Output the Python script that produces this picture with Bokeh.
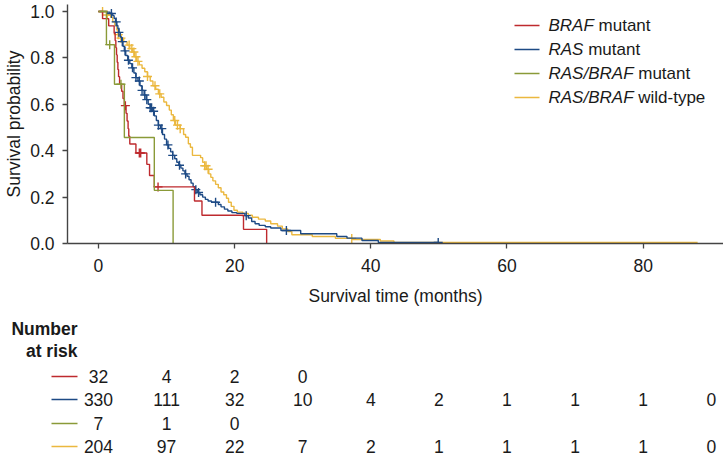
from bokeh.plotting import figure
from bokeh.layouts import column, row
from bokeh.models import (Range1d, FixedTicker, PrintfTickFormatter,
                          ColumnDataSource)
from bokeh.embed import file_html
from bokeh.resources import INLINE
from bokeh.core.properties import value

# ---------------- data ----------------
# Kaplan-Meier step curves: survival holds from each time until the next one
braf_t = [0, 0.6, 1.5, 2.3, 2.45, 2.55, 2.65, 2.75, 2.85, 2.95, 3.1, 3.4, 3.6, 3.8,
          4.05, 4.2, 4.35, 4.45, 4.6, 5.5, 7.1, 7.5, 8.2, 14.1, 15.2, 21.3, 24.7]
braf_s = [1.0, 0.969, 0.938, 0.906, 0.875, 0.844, 0.813, 0.781, 0.75, 0.719, 0.688,
          0.656, 0.625, 0.594, 0.561, 0.528, 0.495, 0.462, 0.429, 0.39, 0.341, 0.293,
          0.244, 0.183, 0.122, 0.061, 0.0]
braf_cens = [3.95, 6.0, 6.2, 8.75]

ras_t = [0, 1.2, 1.7, 2.1, 2.3, 2.5, 2.7, 2.85, 3.0, 3.2, 3.4, 3.6, 3.8, 4.0, 4.3, 4.6,
         4.9, 5.2, 5.5, 5.8, 6.1, 6.4, 6.7, 7.0, 7.3, 7.6, 7.9, 8.2, 8.5, 8.8, 9.1, 9.4,
         9.7, 10.0, 10.3, 10.6, 10.9, 11.2, 11.5, 11.8, 12.1, 12.4, 12.7, 13.0, 13.3,
         13.6, 13.9, 14.2, 14.5, 14.9, 15.3, 15.7, 16.1, 16.6, 17.6, 18.0, 18.5, 19.0,
         19.6, 20.3, 21.5, 22.0, 22.5, 23.0, 23.6, 24.5, 25.3, 26.8, 29.7, 35.0, 36.5,
         38.7, 41.1, 50.0]
ras_s = [1.0, 0.997, 0.991, 0.982, 0.97, 0.955, 0.94, 0.925, 0.91, 0.89, 0.87, 0.85,
         0.83, 0.81, 0.79, 0.775, 0.757, 0.735, 0.715, 0.70, 0.68, 0.66, 0.64, 0.62,
         0.60, 0.585, 0.57, 0.55, 0.53, 0.51, 0.495, 0.47, 0.45, 0.425, 0.41, 0.395,
         0.38, 0.365, 0.35, 0.337, 0.325, 0.313, 0.30, 0.29, 0.275, 0.26, 0.245, 0.232,
         0.22, 0.21, 0.20, 0.19, 0.183, 0.178, 0.168, 0.158, 0.148, 0.14, 0.133, 0.13,
         0.12, 0.11, 0.095, 0.085, 0.078, 0.072, 0.067, 0.056, 0.042, 0.030, 0.023,
         0.013, 0.004, 0.004]
ras_cens = [1.9, 2.6, 3.0, 3.5, 3.9, 4.4, 5.0, 5.5, 6.0, 6.4, 6.8, 7.1, 7.6, 7.8, 8.1,
            8.8, 9.3, 10.2, 10.9, 11.9, 12.8, 14.3, 14.7, 17.2, 21.7, 27.6, 49.9]

mut_t = [0, 1.17, 2.35, 3.8, 8.2, 10.96]
mut_s = [1.0, 0.857, 0.686, 0.457, 0.229, 0.0]
mut_cens = [1.65, 3.3]

wt_t = [0, 1.3, 1.8, 2.1, 2.4, 2.7, 2.9, 3.3, 3.7, 4.2, 4.6, 5.0, 5.3, 5.6, 6.0, 6.4,
        6.8, 7.2, 7.6, 8.0, 8.4, 8.8, 9.2, 9.6, 10.0, 10.4, 10.7, 11.0, 11.3, 12.0,
        12.5, 12.8, 13.2, 13.5, 13.8, 15.0, 15.3, 15.6, 15.9, 16.2, 16.5, 16.8, 17.2,
        17.6, 18.0, 18.4, 18.8, 19.1, 19.5, 19.9, 20.4, 21.2, 22.0, 22.6, 23.5, 24.5,
        25.3, 26.3, 27.0, 27.8, 28.4, 31.4, 34.8, 37.3, 41.4, 43.4, 88.0]
wt_s = [1.0, 0.985, 0.975, 0.955, 0.94, 0.92, 0.90, 0.885, 0.87, 0.855, 0.84, 0.825,
        0.805, 0.785, 0.77, 0.755, 0.74, 0.72, 0.70, 0.68, 0.665, 0.645, 0.63, 0.61,
        0.595, 0.575, 0.555, 0.53, 0.51, 0.495, 0.47, 0.458, 0.43, 0.415, 0.38, 0.37,
        0.35, 0.335, 0.32, 0.30, 0.285, 0.27, 0.255, 0.24, 0.222, 0.21, 0.195, 0.178,
        0.16, 0.143, 0.135, 0.13, 0.122, 0.113, 0.105, 0.097, 0.085, 0.075, 0.063,
        0.052, 0.038, 0.030, 0.022, 0.017, 0.011, 0.004, 0.004]
wt_cens = [0.6, 1.3, 2.9, 3.3, 4.5, 4.9, 5.2, 5.5, 5.8, 7.2, 8.3, 9.0, 11.2, 11.6,
           12.0, 15.6, 15.8, 16.1, 37.2]

legend_italic = ["BRAF", "RAS", "RAS/BRAF", "RAS/BRAF"]
legend_plain = ["mutant", "mutant", "mutant", "wild-type"]
colors = ["#BE2A2E", "#1D4A85", "#8A9A38", "#EBB83F"]

risk_times = [0, 10, 20, 30, 40, 50, 60, 70, 80, 90]
risk_braf = [32, 4, 2, 0]
risk_ras = [330, 111, 32, 10, 4, 2, 1, 1, 1, 0]
risk_mut = [7, 1, 0]
risk_wt = [204, 97, 22, 7, 2, 1, 1, 1, 1, 0]

x_ticks = [0, 20, 40, 60, 80]
y_ticks = [0.0, 0.2, 0.4, 0.6, 0.8, 1.0]

# ---------------- layout constants ----------------
W = 723
TOP_H = 310
BOT_H = 459 - TOP_H
LEFT = 67
X0, X1 = -4.55, 91.8
Y0, Y1 = 0.0, 1.03
PPU = (W - LEFT) / (X1 - X0)          # pixels per month
FRAME_TOP = 4
FRAME_H = 243 - FRAME_TOP
FONT = "Liberation Sans"
FS = "17.5px"
TXT = "#1a1a1a"
AXC = "#444444"
KEY_W = 80                            # width of the left key column of the table


def tx(px):
    """canvas pixel column -> months"""
    return X0 + (px - LEFT) / PPU


def sy(py):
    """canvas pixel row -> survival value (top figure)"""
    return Y0 + (243 - py) / FRAME_H * (Y1 - Y0)


def step_value(ts, ss, t):
    v = ss[0]
    for ti, si in zip(ts, ss):
        if ti <= t:
            v = si
        else:
            break
    return v


# ---------------- survival plot ----------------
p = figure(width=W, height=TOP_H, output_backend="svg", toolbar_location=None,
           x_range=Range1d(X0, X1), y_range=Range1d(Y0, Y1),
           min_border_left=LEFT, min_border_right=0, min_border_top=FRAME_TOP,
           min_border_bottom=TOP_H - 243)
p.outline_line_color = None
p.grid.visible = False
p.background_fill_color = "white"
p.border_fill_color = "white"

for ax in (p.xaxis[0], p.yaxis[0]):
    ax.axis_line_color = AXC
    ax.axis_line_width = 1.4
    ax.major_tick_line_color = AXC
    ax.major_tick_line_width = 1.3
    ax.major_tick_in = 0
    ax.major_tick_out = 5
    ax.minor_tick_line_color = None
    ax.major_label_text_font = FONT
    ax.major_label_text_font_size = FS
    ax.major_label_text_color = TXT
    ax.axis_label_text_font = FONT
    ax.axis_label_text_font_size = FS
    ax.axis_label_text_font_style = "normal"
    ax.axis_label_text_color = TXT

p.xaxis.ticker = FixedTicker(ticks=x_ticks)
p.xaxis.axis_label = "Survival time (months)"
p.xaxis.major_label_standoff = 10
p.xaxis.axis_label_standoff = 11
p.yaxis.ticker = FixedTicker(ticks=y_ticks)
p.yaxis.formatter = PrintfTickFormatter(format="%.1f")
p.yaxis.axis_label = "Survival probability"
p.yaxis.major_label_standoff = 8
p.yaxis.axis_label_standoff = 3

series = [(braf_t, braf_s, braf_cens), (ras_t, ras_s, ras_cens),
          (mut_t, mut_s, mut_cens), (wt_t, wt_s, wt_cens)]
# wild-type first so the mutant curves sit on top
for idx in [3, 1, 0, 2]:
    ts, ss, cens = series[idx]
    p.step(x=ts, y=ss, mode="after", line_color=colors[idx], line_width=1.4)
    cy = [step_value(ts, ss, c) for c in cens]
    p.scatter(x=cens, y=cy, marker="cross", size=9, line_color=colors[idx],
              line_width=1.4)

# legend with italic gene names
ITALIC_W = {"R": 0.722, "A": 0.667, "S": 0.667, "/": 0.278, "B": 0.667, "F": 0.611}
LEG_FS = 17.0
leg_rows = [25, 49, 73, 97]
for i in range(4):
    yv = sy(leg_rows[i])
    p.segment(x0=[tx(514)], y0=[yv], x1=[tx(539)], y1=[yv],
              line_color=colors[i], line_width=1.4)
    p.text(x=[tx(548)], y=[yv], text=[legend_italic[i]], text_font=value(FONT),
           text_font_size=f"{LEG_FS}px", text_font_style="italic",
           text_color=TXT, text_baseline="middle", text_align="left")
    off = (sum(ITALIC_W[c] for c in legend_italic[i]) + 0.278) * LEG_FS
    p.text(x=[tx(548)], y=[yv], text=[legend_plain[i]], x_offset=off,
           text_font=value(FONT), text_font_size=f"{LEG_FS}px",
           text_color=TXT, text_baseline="middle", text_align="left")

# ---------------- number at risk ----------------
row_px = [66, 89, 113, 136]            # row centres inside the lower canvas
risks = [risk_braf, risk_ras, risk_mut, risk_wt]

# key column: heading and coloured line samples
k = figure(width=KEY_W, height=BOT_H, output_backend="svg", toolbar_location=None,
           x_range=Range1d(0, KEY_W), y_range=Range1d(BOT_H, 0),
           x_axis_type=None, y_axis_type=None,
           min_border_left=0, min_border_right=0, min_border_top=0,
           min_border_bottom=0)
k.outline_line_color = None
k.grid.visible = False
k.text(x=[77, 77], y=[18, 40], text=["Number", "at risk"], text_font=value(FONT),
       text_font_size=FS, text_font_style="bold", text_color=TXT,
       text_align="right", text_baseline="middle")
k.segment(x0=[51] * 4, y0=row_px, x1=[77] * 4, y1=row_px,
          line_color=colors, line_width=1.6)

# counts placed on the survival-time scale
q = figure(width=W - KEY_W, height=BOT_H, output_backend="svg",
           toolbar_location=None,
           x_range=Range1d(tx(KEY_W), X1), y_range=Range1d(BOT_H, 0),
           x_axis_type=None, y_axis_type=None,
           min_border_left=0, min_border_right=0, min_border_top=0,
           min_border_bottom=0)
q.outline_line_color = None
q.grid.visible = False
for i, counts in enumerate(risks):
    src = ColumnDataSource(dict(x=risk_times[:len(counts)],
                                y=[row_px[i]] * len(counts),
                                t=[str(c) for c in counts]))
    q.text(x="x", y="y", text="t", source=src, text_font=value(FONT),
           text_font_size=FS, text_color=TXT, text_align="center",
           text_baseline="middle")

layout = column(p, row(k, q, spacing=0), spacing=0)
open("out.html", "w").write(file_html(layout, INLINE))
